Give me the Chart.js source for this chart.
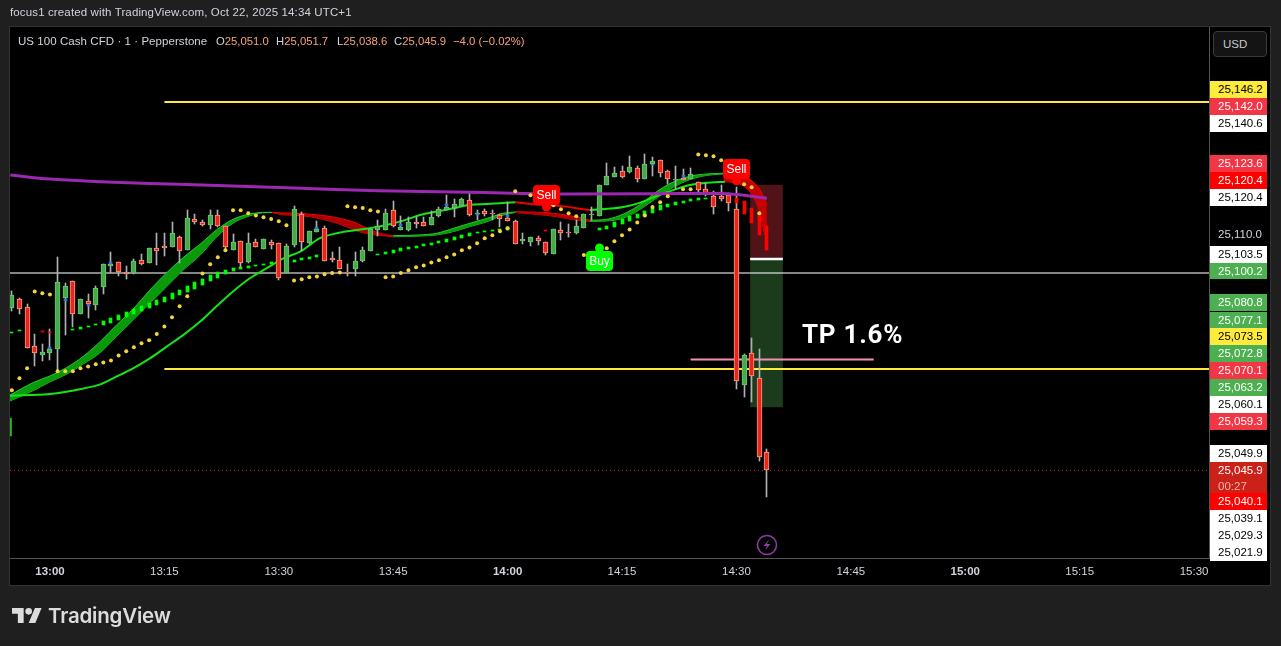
<!DOCTYPE html>
<html><head><meta charset="utf-8">
<script src="https://cdn.jsdelivr.net/npm/chart.js@4"></script>
<style>
html,body{margin:0;padding:0;background:#1f1f1f;width:1281px;height:646px;overflow:hidden;font-family:"Liberation Sans",Arial,sans-serif;color:#d1d4dc}
#panel{position:absolute;left:10px;top:27px;width:1260px;height:558px;background:#000;box-shadow:0 0 0 1px #333}
canvas{position:absolute;left:0;top:0}
.abs{position:absolute;white-space:pre}
.tag{position:absolute;left:1210px;width:57px;box-sizing:border-box;padding-left:8px;font-size:11.5px;line-height:16.8px;height:16.8px;white-space:pre}
</style></head><body>
<div id="panel"></div>
<canvas id="c" width="1281" height="646"></canvas>
<div class="abs" style="left:10px;top:5px;font-size:11.5px;line-height:15px;letter-spacing:.13px;color:#d1d4dc">focus1 created with TradingView.com, Oct 22, 2025 14:34 UTC+1</div>
<div class="abs" style="left:18px;top:34px;font-size:11.5px;line-height:15px;letter-spacing:.06px;color:#d1d4dc">US 100 Cash CFD · 1 · Pepperstone</div>
<div class="abs" style="left:216px;top:34px;font-size:11.3px;line-height:15px;color:#d1d4dc">O<span style="color:#f7a27a">25,051.0</span></div>
<div class="abs" style="left:276px;top:34px;font-size:11.3px;line-height:15px;color:#d1d4dc">H<span style="color:#f7a27a">25,051.7</span></div>
<div class="abs" style="left:337px;top:34px;font-size:11.3px;line-height:15px;color:#d1d4dc">L<span style="color:#f7a27a">25,038.6</span></div>
<div class="abs" style="left:394px;top:34px;font-size:11.3px;line-height:15px;color:#d1d4dc">C<span style="color:#f7a27a">25,045.9</span></div>
<div class="abs" style="left:453px;top:34px;font-size:11.3px;line-height:15px;color:#f7a27a">−4.0 (−0.02%)</div>
<div class="abs" style="left:1213px;top:31px;width:54px;height:26px;box-sizing:border-box;border:1px solid #3a3a3a;border-radius:4px;background:#141414;font-size:11.5px;line-height:24px;padding-left:9px;color:#c8cad0">USD</div>
<div class="abs" style="left:802px;top:317px;font-family:Roboto,sans-serif;font-weight:700;font-size:26px;line-height:34px;letter-spacing:.75px;color:#fff">TP 1.6%</div>
<svg class="abs" style="left:756px;top:534px" width="22" height="22" viewBox="0 0 22 22"><circle cx="11" cy="11" r="9.5" fill="none" stroke="#8e3aa8" stroke-width="1.6"/><path d="M13 5.5 L7.5 12 H11 L9 16.5 L14.5 10 H11 Z" fill="#8e3aa8"/></svg>
<svg class="abs" style="left:12px;top:608px" width="30" height="15" viewBox="0 4 36 18"><path fill="#dcdcdc" d="M14 22H7V11H0V4h14v18zM28 22h-8l7.5-18h8L28 22z"/><circle fill="#dcdcdc" cx="20" cy="8" r="4"/></svg>
<div class="abs" style="left:48px;top:603px;font-family:Inter,sans-serif;font-weight:600;font-size:20.5px;line-height:26px;letter-spacing:-.2px;color:#dcdcdc">TradingView</div>
<script>
// ---- chart data (prices, minutes after 13:00) ----
const firstMinute = -5;
const opens = [25090.2,25092.5,25090.3,25079.7,25077.4,25077.8,25079.0,25092.9,25097.4,25088.6,
25091.9,25091.0,25095.9,25101.6,25102.5,25099.8,25099.5,25103.1,25102.4,25106.4,
25107.0,25106.8,25109.3,25106.0,25114.2,25113.4,25112.8,25115.3,25112.3,25106.0,
25108.3,25102.7,25108.0,25106.3,25108.0,25107.7,25099.5,25107.3,25115.6,25107.8,
25110.9,25111.8,25103.7,25103.1,25099.9,25100.8,25103.0,25105.5,25111.4,25111.4,
25116.7,25111.4,25111.4,25113.5,25113.4,25112.8,25115.1,25116.9,25117.4,25118.0,
25119.4,25115.6,25116.4,25116.0,25115.3,25114.5,25113.7,25108.4,25108.2,25109.1,
25108.0,25104.9,25111.3,25110.9,25110.6,25112.0,25115.4,25115.2,25123.6,25125.9,
25127.3,25127.0,25128.1,25125.3,25129.3,25130.4,25127.3,25125.0,25125.6,25125.3,
25124.3,25122.4,25120.5,25120.6,25120.8,25117.0,25069.2,25077.8,25071.0,25051.0];
const highs = [25094.7,25092.8,25091.2,25083.0,25080.3,25084.4,25104.1,25096.8,25097.4,25092.6,
25093.9,25096.1,25102.0,25105.4,25102.6,25101.5,25103.4,25104.8,25106.4,25110.5,
25110.5,25113.5,25109.7,25116.8,25115.7,25114.1,25116.8,25116.8,25112.4,25110.3,
25108.3,25110.5,25108.9,25108.8,25108.6,25107.7,25107.5,25117.9,25116.2,25111.1,
25113.8,25112.4,25105.3,25106.6,25102.1,25105.3,25106.6,25111.5,25114.0,25117.0,
25119.2,25115.2,25114.9,25114.8,25114.8,25116.4,25117.5,25120.9,25119.7,25120.1,
25121.6,25116.7,25117.1,25116.7,25115.7,25119.0,25114.1,25110.5,25109.4,25109.7,
25108.1,25111.5,25113.6,25113.0,25114.1,25115.7,25117.7,25123.6,25129.6,25128.4,
25128.8,25131.5,25128.8,25132.0,25131.1,25130.4,25127.7,25128.8,25128.0,25128.2,
25124.3,25124.0,25122.0,25123.6,25121.5,25123.1,25077.6,25081.9,25078.9,25051.7];
const lows = [25089.3,25088.5,25079.3,25074.3,25075.7,25076.0,25073.2,25082.8,25085.0,25088.6,
25087.5,25089.6,25093.9,25099.5,25098.8,25098.0,25099.4,25101.8,25102.4,25101.8,
25104.3,25106.8,25102.4,25106.0,25113.0,25112.4,25111.6,25112.1,25105.9,25105.9,
25101.2,25102.4,25106.6,25106.3,25106.2,25097.7,25099.5,25106.8,25105.5,25107.5,
25110.8,25103.0,25102.5,25100.7,25098.7,25098.8,25102.5,25105.5,25109.7,25111.4,
25112.1,25111.4,25111.1,25111.9,25112.3,25112.6,25115.0,25116.8,25115.0,25117.9,
25115.2,25114.1,25115.2,25114.1,25112.2,25113.8,25107.4,25107.4,25107.0,25107.3,
25104.6,25104.9,25108.6,25109.5,25110.3,25111.8,25114.1,25115.2,25123.6,25125.7,
25125.4,25126.8,25124.5,25125.3,25126.1,25125.7,25123.9,25122.5,25125.0,25125.1,
25121.4,25120.6,25115.7,25119.1,25116.5,25068.1,25066.0,25064.5,25048.5,25038.6];
const closes = [25093.6,25089.9,25079.3,25077.8,25078.0,25078.9,25097.1,25096.0,25088.6,25092.5,
25091.3,25095.5,25102.0,25102.1,25100.0,25099.3,25102.8,25102.2,25106.4,25105.5,
25106.5,25110.4,25105.7,25114.5,25113.6,25112.8,25115.3,25112.5,25106.6,25108.0,
25102.4,25107.7,25106.8,25108.8,25107.3,25098.4,25106.9,25117.0,25108.2,25111.0,
25111.5,25103.0,25103.3,25100.8,25099.5,25102.8,25105.8,25111.5,25112.4,25115.9,
25112.3,25112.1,25113.4,25113.1,25112.3,25114.8,25117.0,25117.6,25118.3,25119.7,
25115.4,25116.0,25115.8,25115.7,25114.2,25113.9,25107.4,25108.9,25109.4,25108.4,
25105.2,25111.5,25110.6,25110.6,25112.4,25115.7,25115.7,25123.6,25126.1,25126.9,
25125.9,25128.4,25125.3,25129.3,25130.1,25126.8,25125.3,25125.3,25125.0,25126.6,
25122.3,25121.0,25117.7,25119.8,25118.8,25070.1,25077.2,25071.7,25049.6,25045.9];

const sarMins = [-5,-4,-3,-2,-1,0,1,2,3,4,5,6,7,8,9,10,11,12,13,14,15,16,17,18,20,21,22,23,24,25,26,27,28,29,30,31,32,33,34,35,36,37,38,39,40,41,42,43,44,45,46,47,48,49,50,51,52,53,54,55,56,57,58,59,60,61,63,66,67,68,69,70,73,74,75,76,77,78,79,80,81,83,84,85,86,87,88,91,92,93];
const sarVals = [25067.7,25071.0,25073.7,25094.6,25094.1,25093.8,25072.9,25072.9,25072.9,25073.7,25074.2,25074.8,25075.3,25075.8,25077.2,25078.3,25079.4,25080.5,25081.3,25083.0,25085.1,25087.6,25090.6,25093.3,25099.5,25102.0,25103.9,25105.8,25116.7,25116.7,25115.9,25115.3,25114.8,25114.3,25113.7,25112.6,25097.6,25097.9,25098.5,25098.7,25099.3,25099.6,25099.8,25117.8,25117.5,25117.3,25116.7,25116.4,25098.5,25098.7,25099.6,25100.4,25101.2,25101.7,25102.5,25103.1,25103.9,25104.7,25105.8,25106.6,25107.7,25109.1,25109.9,25111.0,25111.8,25121.9,25120.8,25118.1,25117.0,25115.9,25115.1,25104.5,25106.4,25108.3,25109.9,25111.5,25113.4,25115.3,25117.6,25118.9,25120.5,25122.4,25122.4,25131.9,25131.7,25131.4,25130.3,25123.8,25123.0,25115.9];

const stepMins = [-5,-4,3,4,5,6,7,8,9,10,11,12,13,14,15,16,17,18,19,20,21,22,23,24,25,26,27,28,29,32,33,34,35,43,44,45,46,47,48,49,50,51,52,53,54,55,56,57,58,59,60,72,73,74,75,76,77,78,79,80,81,82,83,84,85,86];
const stepTop = [25083.7,25084.1,25084.3,25084.8,25085.1,25085.8,25086.6,25087.5,25088.2,25089.0,25089.8,25090.7,25091.5,25092.3,25093.1,25094.2,25095.0,25096.1,25097.2,25098.0,25099.1,25099.9,25100.5,25100.9,25101.3,25101.5,25101.8,25102.1,25102.6,25103.3,25103.7,25104.0,25104.5,25104.8,25105.4,25105.9,25106.5,25106.6,25107.0,25107.5,25107.8,25108.4,25109.0,25109.5,25110.1,25110.6,25110.9,25111.2,25111.4,25111.5,25112.2,25111.8,25112.4,25113.5,25114.4,25115.2,25115.7,25116.5,25117.3,25118.2,25118.4,25119.0,25119.3,25119.8,25120.1,25120.1];
const stepBottom = [25083.3,25083.8,25084.0,25084.5,25084.8,25085.4,25085.5,25086.0,25086.8,25087.7,25088.5,25089.3,25090.1,25091.0,25091.8,25092.6,25093.6,25094.5,25095.4,25096.4,25097.5,25098.3,25099.4,25100.1,25100.7,25101.0,25101.5,25101.8,25102.1,25102.7,25103.2,25103.5,25104.0,25104.5,25104.8,25105.1,25105.6,25106.2,25106.5,25107.0,25107.3,25107.8,25108.1,25108.6,25109.2,25109.7,25110.4,25110.8,25111.1,25111.3,25111.4,25111.4,25111.6,25112.2,25113.1,25113.8,25114.6,25115.2,25116.0,25116.8,25117.6,25118.2,25118.8,25119.2,25119.6,25119.8];
const redStepMins = [-1,0,65,90,91,92,93,94];
const redStepTop = [25083.9,25083.6,25111.4,25120.1,25119.2,25117.3,25115.9,25112.4];
const redStepBottom = [25083.6,25083.3,25111.1,25118.6,25115.7,25113.2,25110.0,25105.9];
const edgeMins = [-5.2];
const edgeTop = [25060.2];
const edgeBottom = [25055.2];
const blueMins = [0,2,5,8,35,46,52,56,60,79,83];
const blueTop = [25079.4,25092.5,25091.3,25102.6,25112.1,25112.9,25118.5,25116.1,25115.5,25129.5,25126.3];
const blueBottom = [25078.8,25091.9,25090.7,25102.0,25111.5,25112.3,25117.9,25115.5,25114.9,25128.9,25125.7];

const maMins = [-5.2,0,6.6,13,20,33,43,55,68,79,88,94];
const maVals = [25126.3,25125.2,25124.5,25124.0,25123.6,25122.7,25122.0,25121.6,25121.15,25121.2,25121.3,25120.0];

const slowGreenAMins = [-5.24,0,4.4,6.6,8.7,10.9,13.1,15.3,17.5,19.7,21.8,24,26.2,28.4,30.6,32.8,35.4,37.6,39.8,41.9,44.1,46.3,48.5,50.7,52.9,55.1,57.3,61];
const slowGreenAVals = [25066.25,25066.7,25068.2,25069.3,25071.4,25073.7,25076.4,25079.6,25082.8,25086.4,25090.5,25094.6,25098.2,25100.9,25103.6,25105.45,25109.1,25110.45,25111.2,25111.8,25112.7,25113.9,25115.4,25116.35,25117.25,25118.2,25118.4,25118.9];
const slowRedMins = [61,63.8,65.6,67.7,69.9,70.8];
const slowRedVals = [25118.9,25118.3,25118.15,25117.7,25117.0,25116.8];
const slowGreenBMins = [70.8,75.2,77.4,79.5,81.7,83.9,86.1,88.5];
const slowGreenBVals = [25116.8,25117.6,25118.8,25120.6,25122.2,25123.6,25124.2,25124.5];

const band1Mins = [-5.24,-2.2,0,2.2,4.4,6.6,8.7,10.9,13.1,15.3,17.5,19.7,21.8,24,26.2,28.4,29.1];
const band1Upper = [25066.4,25069.8,25071.6,25073.9,25077.0,25081.0,25085.4,25089.8,25095.0,25099.7,25103.9,25107.5,25111.3,25114.25,25115.7,25116.15,25116.15];
const band1Lower = [25064.8,25067.6,25070.0,25072.1,25074.9,25078.0,25082.3,25086.8,25091.4,25095.9,25100.5,25104.5,25109.35,25113.2,25115.2,25116.1,25116.1];
const band2Mins = [29.1,30.5,33.2,37.6,40.2,41.9,44.1,45];
const band2Upper = [25116.15,25116.0,25115.8,25114.7,25113.2,25111.5,25110.0,25109.8];
const band2Lower = [25116.1,25115.5,25115.2,25113.2,25111.1,25110.2,25109.7,25109.5];
const band3Mins = [45,48.5,50.7,52.9,55.1,57.3,59.4,61];
const band3Upper = [25109.8,25110.0,25110.45,25111.8,25113.2,25114.5,25115.9,25116.25];
const band3Lower = [25109.5,25109.7,25110.0,25110.9,25112.3,25113.6,25115.4,25116.1];
const band4Mins = [61,63.8,65.6,67.7,69.9,70.8];
const band4Upper = [25116.3,25116.2,25116.0,25115.4,25114.5,25114.0];
const band4Lower = [25116.1,25115.6,25115.2,25114.5,25113.8,25113.7];
const band5Mins = [70.8,73,75.2,77.4,79.5,81.7,83.9,86.1,88.3];
const band5Upper = [25114.0,25114.25,25115.7,25118.3,25121.7,25124.4,25125.96,25126.6,25126.8];
const band5Lower = [25113.7,25113.8,25114.6,25117.0,25120.0,25122.97,25125.05,25126.2,25126.6];
const band6UpperMins = [88.3,90.5,91.8,93.1,94];
const band6Upper = [25126.8,25126.3,25125.1,25122.2,25118.2];
const band6LowerMins = [88.3,89.6,91.1,92.2,93.1,93.7,94];
const band6Lower = [25124.5,25124.3,25123.1,25120.4,25115.9,25110.4,25109.1];

const levelSpanYellow = [15,151.96];
const yellowTop = 25146.2;
const yellowBottom = 25073.5;
const levelSpanGray = [-5.24,151.96];
const grayLevel = 25099.6;
const levelSpanPink = [84,108];
const pinkLevel = 25076.1;
const lastSpan = [-5.24,151.96];
const lastPrice = 25045.9;

const tradeMin = [94];
const stopPrice = 25123.6, entryPrice = 25103.5, targetPrice = 25063.2;

const signalLabels = ['Sell','Sell','Buy'];
const signalMins = [65,90,72];
const signalPrices = [25117.6,25124.7,25106.45];

const timeTickMins = [0,15,30,45,60,75,90,105,120,135,150];
const timeTickLabels = ['13:00','13:15','13:30','13:45','14:00','14:15','14:30','14:45','15:00','15:15','15:30'];
const priceTick = [25110.0];

const tagTexts = ['25,146.2','25,142.0','25,140.6','25,123.6','25,120.4','25,120.4','25,103.5','25,100.2','25,080.8','25,077.1','25,073.5','25,072.8','25,070.1','25,063.2','25,060.1','25,059.3','25,049.9','25,045.9\n00:27','25,040.1','25,039.1','25,029.3','25,021.9'];
const tagKinds = ['y','r','w','r','R','w','w','g','g','g','y','g','r','g','w','r','w','d','R','w','w','w'];
// ---- layout and style only ----
const tagTops = [81,98,115,155,172.3,189,246,262.7,294,311.7,328,345,362,379,396,413,445,461.7,493.3,510,527,544];
const tagStyle = {y:['#ffeb3b','#000'],r:['#f23645','#fff'],R:['#ff0000','#fff'],w:['#ffffff','#000'],g:['#4caf50','#fff'],d:['#cc2119','#fff']};
tagTexts.forEach((t,i)=>{
  const d=document.createElement('div');d.className='tag';
  const s=tagStyle[tagKinds[i]];d.style.top=tagTops[i]+'px';d.style.background=s[0];d.style.color=s[1];
  if(t.includes('\n')){const p=t.split('\n');d.style.height='31.6px';d.innerHTML=p[0]+'<br><span style="color:#f2b5ad">'+p[1]+'</span>';}
  else d.textContent=t;
  document.body.appendChild(d);
});

const pts=(xs,ys)=>xs.map((x,i)=>({x,y:ys[i]}));
const rng=(xs,a,b)=>xs.map((x,i)=>({x,y:[b[i],a[i]]}));
const candleMins=opens.map((_,i)=>firstMinute+i);
const isUp=closes.map((c,i)=>c>=opens[i]);

const datasets=[];
const add=d=>{datasets.push(d);return datasets.length-1;};
const line=(data,color,width,order,extra)=>add(Object.assign({type:'line',data,borderColor:color,borderWidth:width,pointRadius:0,order,fill:false,cubicInterpolationMode:'monotone'},extra||{}));
const bar=(data,color,thick,order,extra)=>add(Object.assign({type:'bar',data,backgroundColor:color,borderWidth:0,barThickness:thick,order,grouped:false},extra||{}));
function band(mA,up,mB,lo,edge,fillCol,order){
  const i=datasets.length;
  line(pts(mA,up),edge,1,order,{fill:{target:i+1,above:fillCol,below:fillCol}});
  line(pts(mB,lo),edge,1,order);
}
bar(rng(tradeMin,[stopPrice],[entryPrice]),'#4f1318',32,95);
bar(rng(tradeMin,[entryPrice],[targetPrice]),'#1c3a1c',32,95);
bar(rng(tradeMin,[entryPrice+0.2],[entryPrice-0.2]),'#ffffff',32,94);
line(pts(levelSpanGray,[grayLevel,grayLevel]),'rgba(255,255,255,.52)',2,90);
line(pts(levelSpanYellow,[yellowTop,yellowTop]),'#ffeb3b',2,89);
line(pts(levelSpanYellow,[yellowBottom,yellowBottom]),'#ffeb3b',2,89);
line(pts(levelSpanPink,[pinkLevel,pinkLevel]),'#f48fb1',2,88);
line(pts(lastSpan,[lastPrice,lastPrice]),'#d8201c',1,87,{borderDash:[1,3]});
const GR='#0a990a',GE='#22cc22',RD='#a80000',RE='#ee0000';
band(band1Mins,band1Upper,band1Mins,band1Lower,GE,GR,80);
band(band2Mins,band2Upper,band2Mins,band2Lower,RE,RD,80);
band(band3Mins,band3Upper,band3Mins,band3Lower,GE,GR,80);
band(band4Mins,band4Upper,band4Mins,band4Lower,RE,RD,80);
band(band5Mins,band5Upper,band5Mins,band5Lower,GE,GR,80);
band(band6UpperMins,band6Upper,band6LowerMins,band6Lower,'#ff0000','#c40000',80);
line(pts(slowGreenAMins,slowGreenAVals),'#14e614',2,70);
line(pts(slowRedMins,slowRedVals),'#ee0000',2,70);
line(pts(slowGreenBMins,slowGreenBVals),'#14e614',2,70);
bar(rng(stepMins,stepTop,stepBottom),'#00ff00',3,60);
bar(rng(edgeMins,edgeTop,edgeBottom),'#22bb22',2,60);
bar(rng(candleMins,highs,lows),'#aeb0b6',1,50);
bar(rng(blueMins,blueTop,blueBottom),'#3f6fd8',3,49.5);
bar(candleMins.map((x,i)=>({x,y:[Math.min(opens[i],closes[i]),Math.max(opens[i],closes[i])]})),
  isUp.map(u=>u?'#48a94c':'#e8251f'),5,49,{borderWidth:1,borderColor:isUp.map(u=>u?'#66c96a':'#f99c7c'),borderSkipped:false});
bar(rng(redStepMins,redStepTop,redStepBottom),'#ff0000',3,45);
line(pts(maMins,maVals),'#9c27b0',3,40);
add({type:'line',data:pts(sarMins,sarVals),showLine:false,pointRadius:2,pointStyle:'circle',pointBackgroundColor:'#f5d33b',pointBorderWidth:0,order:30});

const snapBars={id:'snapBars',beforeDatasetsDraw(chart){
  chart.data.datasets.forEach((d,i)=>{
    if(d.type!=='bar')return;
    chart.getDatasetMeta(i).data.forEach(el=>{
      el.x=Math.round(el.x-0.5)+0.5;
      el.y=Math.round(el.y);el.base=Math.round(el.base);
      if(el.y===el.base)el.base=el.y+1;
    });
  });
}};
const signals={id:'signals',afterDatasetsDraw(chart){
  const c=chart.ctx,xs=chart.scales.x,ys=chart.scales.y;
  signalLabels.forEach((t,i)=>{
    const x=Math.round(xs.getPixelForValue(signalMins[i]))+0.5,y=ys.getPixelForValue(signalPrices[i]);
    const sell=t==='Sell',col=sell?'#ff0000':'#00ff00';
    const top=sell?y-22:y+3;
    c.save();c.fillStyle=col;
    c.beginPath();c.arc(x,y,4.5,0,Math.PI*2);c.fill();
    c.beginPath();c.roundRect(x-13.5,top,27,20,4);c.fill();
    c.fillStyle='#fff';c.font='12px "Liberation Sans"';c.textAlign='center';c.textBaseline='middle';
    c.fillText(t,x,top+10.5);c.restore();
  });
}};

new Chart(document.getElementById('c'),{
  type:'bar',
  data:{datasets},
  plugins:[snapBars,signals],
  options:{
    responsive:false,animation:false,events:[],
    layout:{padding:{left:10,top:27,right:0,bottom:61}},
    plugins:{legend:{display:false},tooltip:{enabled:false}},
    scales:{
      x:{type:'linear',offset:false,min:-5.24,max:151.96,
        grid:{display:false,drawTicks:false},
        border:{display:true,color:'#555',width:1},
        afterBuildTicks:s=>{s.ticks=timeTickMins.map(value=>({value}));},
        afterFit:s=>{s.height=27;},
        ticks:{autoSkip:false,maxRotation:0,padding:7,color:'#d1d4dc',
          callback:v=>timeTickLabels[timeTickMins.indexOf(v)],
          font:ctx=>({family:'"Liberation Sans"',size:11.5,weight:(ctx.tick&&ctx.tick.value%60===0)?'bold':'normal'})}},
      y:{type:'linear',position:'right',min:25022.05,max:25166.6,
        grid:{display:false,drawTicks:false},
        border:{display:true,color:'#555',width:1},
        afterBuildTicks:s=>{s.ticks=priceTick.map(value=>({value}));},
        afterFit:s=>{s.width=72;},
        ticks:{padding:9,color:'#d1d4dc',font:{family:'"Liberation Sans"',size:11.5},
          callback:v=>v.toLocaleString('en-US',{minimumFractionDigits:1,maximumFractionDigits:1})}}
    }
  }
});
</script>
</body></html>
